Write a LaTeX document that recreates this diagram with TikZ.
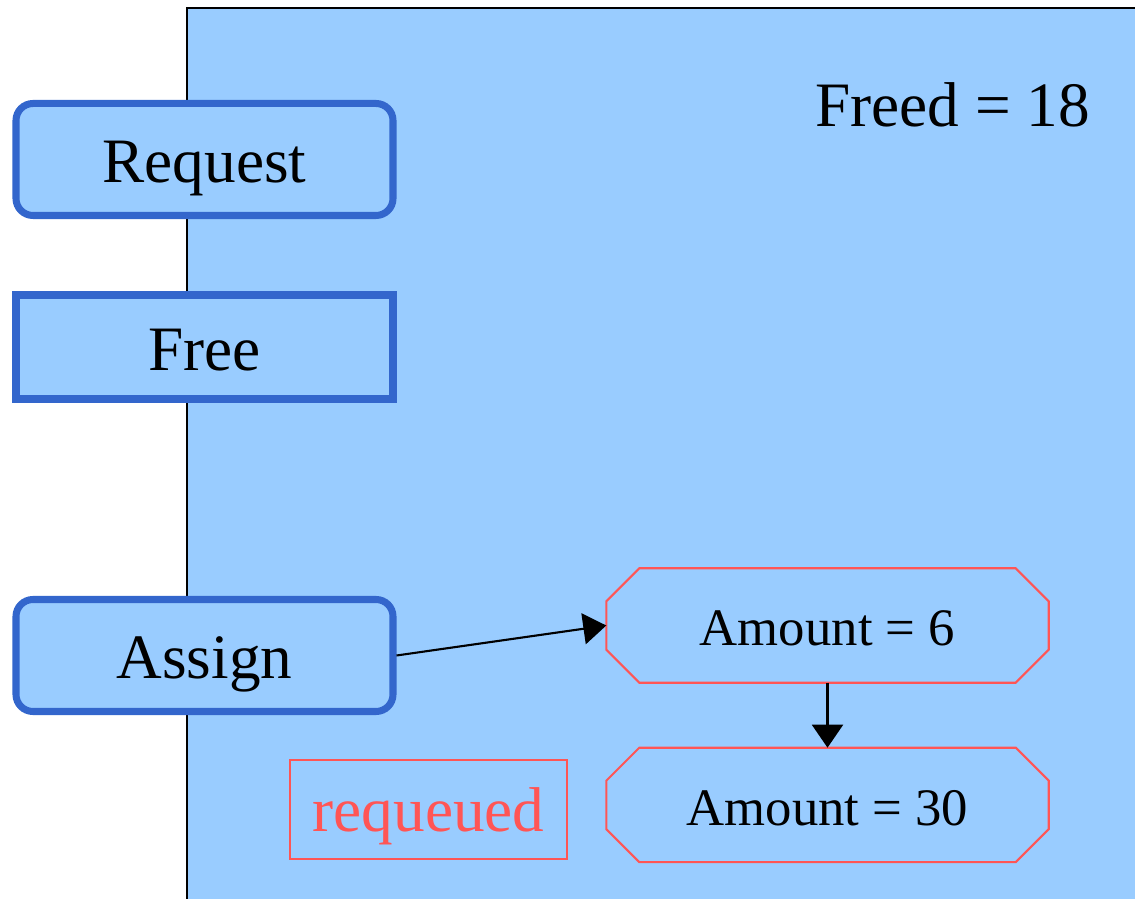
\documentclass[tikz,border=0pt]{standalone}
\usepackage{fontspec}
\setmainfont{Liberation Serif}
\usetikzlibrary{positioning, arrows.meta}

\definecolor{panelfill}{HTML}{99CCFF}
\definecolor{opblue}{HTML}{3366CC}
\definecolor{amtred}{HTML}{FF5555}

\begin{document}
\begin{tikzpicture}[
        opbox/.style={draw=opblue, line width=2pt, fill=panelfill,
            minimum width=3.77cm, minimum height=1.12cm, inner sep=0pt,
            text height=0.47cm, text depth=0pt,
            font=\fontsize{18}{20}\selectfont},
        amtbox/.style={minimum width=4.41cm, minimum height=1.13cm, inner sep=0pt,
            text height=0.41cm, text depth=0pt,
            font=\fontsize{15}{18}\selectfont},
        amtline/.style={draw=amtred, line width=0.6pt, line join=miter},
        flow/.style={-{Triangle[length=0.23cm, width=0.31cm]}, line width=0.6pt}
    ]
        \useasboundingbox (0,0) rectangle (11.35,-8.99);

        % Background panel
        \draw[fill=panelfill, line width=0.6pt] (1.87,-0.08) rectangle (11.8,-9.4);
        \node[anchor=base, inner sep=0pt, font=\fontsize{18}{20}\selectfont]
            (freed) at (9.525,-1.27) {Freed = 18};

        % Operations on the left
        \node[opbox, rounded corners=0.17cm] (request) at (2.045,-1.595) {Request};
        \node[opbox, minimum height=1.04cm] (free) at (2.045,-3.47) {Free};
        \node[opbox, rounded corners=0.17cm] (assign) at (2.045,-6.555) {Assign};

        % Queue of amounts
        \node[amtbox] (amt6) at (8.275,-6.255) {Amount = 6};
        \node[amtbox, below=0.65cm of amt6] (amt30) {Amount = 30};

        % Cut corners of the amount boxes
        \foreach \amt in {amt6, amt30} {
            \draw[amtline] ([xshift=0.33cm]\amt.north west)
                -- ([xshift=-0.33cm]\amt.north east)
                -- ([yshift=-0.33cm]\amt.north east)
                -- ([yshift=0.33cm]\amt.south east)
                -- ([xshift=-0.33cm]\amt.south east)
                -- ([xshift=0.33cm]\amt.south west)
                -- ([yshift=0.33cm]\amt.south west)
                -- ([yshift=-0.33cm]\amt.north west) -- cycle;
        }

        \node[draw=amtred, text=amtred, line width=0.6pt, minimum width=2.77cm,
            minimum height=0.99cm, inner sep=0pt, text height=0.45cm, text depth=0pt,
            font=\fontsize{18}{20}\selectfont]
            (requeued) at (4.285,-8.095) {requeued};

        % Connectors
        \draw[flow] (assign.east) -- (amt6.west);
        \draw[flow] (amt6) -- (amt30);
    \end{tikzpicture}
\end{document}
